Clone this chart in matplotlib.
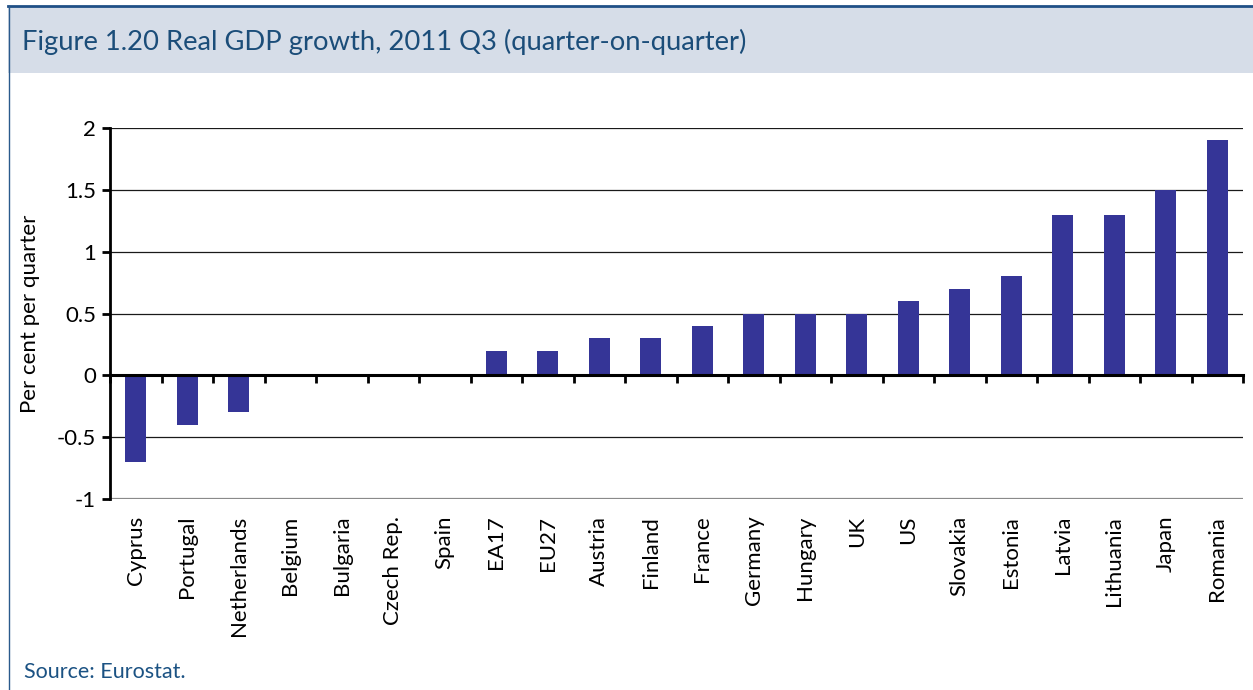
import matplotlib
matplotlib.use("Agg")
import matplotlib.pyplot as plt
from matplotlib.patches import Rectangle
from matplotlib.lines import Line2D
import numpy as np

plt.rcParams['font.family'] = ['Lato', 'DejaVu Sans']

countries = ["Cyprus", "Portugal", "Netherlands", "Belgium", "Bulgaria", "Czech Rep.",
             "Spain", "EA17", "EU27", "Austria", "Finland", "France", "Germany",
             "Hungary", "UK", "US", "Slovakia", "Estonia", "Latvia", "Lithuania",
             "Japan", "Romania"]
growth = [-0.7, -0.4, -0.3, 0.0, 0.0, 0.0, 0.0, 0.2, 0.2, 0.3, 0.3, 0.4, 0.5,
          0.5, 0.5, 0.6, 0.7, 0.8, 1.3, 1.3, 1.5, 1.9]
y_ticks = [-1, -0.5, 0, 0.5, 1, 1.5, 2]
y_tick_labels = ["-1", "-0.5", "0", "0.5", "1", "1.5", "2"]

title = "Figure 1.20 Real GDP growth, 2011 Q3 (quarter-on-quarter)"
source = "Source: Eurostat."

W, H = 1253, 690
fig = plt.figure(figsize=(W / 100, H / 100), dpi=100)
fig.patch.set_facecolor("white")

# header band and frame
fig.patches.append(Rectangle((8 / W, 1 - 73 / H), 1 - 8 / W, 66 / H,
                             transform=fig.transFigure, facecolor="#d6dde8",
                             edgecolor="none", zorder=0))
fig.lines.append(Line2D([8 / W, 1], [1 - 6 / H, 1 - 6 / H], transform=fig.transFigure,
                        color="#1f4f86", lw=2.0))
fig.lines.append(Line2D([8.5 / W, 8.5 / W], [0, 1 - 6 / H], transform=fig.transFigure,
                        color="#2a5a8c", lw=1.0))

fig.text(22 / W, 1 - 42 / H, title, fontsize=19.7, color="#1b4d79",
         ha="left", va="center")
fig.text(24 / W, 1 - 672 / H, source, fontsize=15.5, color="#1b5283",
         ha="left", va="center")

left, right, top, bottom = 110, 1243, 128, 499
ax = fig.add_axes([left / W, 1 - bottom / H, (right - left) / W, (bottom - top) / H])

n = len(countries)
x = np.arange(n)
ax.bar(x, growth, width=0.41, color="#353597", zorder=3)

ax.set_xlim(-0.5, n - 0.5)
ax.set_ylim(-1, 2)

# horizontal grid
for v in y_ticks[1:]:
    if v != 0:
        ax.axhline(v, color="#1a1a1a", lw=0.9, zorder=1)
ax.axhline(-1, color="#8a8a8a", lw=1.6, zorder=1)

# spines
for s in ["top", "right"]:
    ax.spines[s].set_visible(False)
ax.spines["left"].set_linewidth(2.0)
ax.spines["left"].set_color("black")
ax.spines["bottom"].set_position(("data", 0))
ax.spines["bottom"].set_linewidth(2.2)
ax.spines["bottom"].set_zorder(4)

ax.set_yticks(y_ticks)
ax.set_yticklabels(y_tick_labels)
ax.tick_params(axis="y", direction="out", length=6, width=2.0, labelsize=16, pad=4)

# boundary ticks on the zero line
ax.set_xticks(np.arange(n + 1) - 0.5)
ax.set_xticklabels([])
ax.tick_params(axis="x", direction="out", length=6, width=2.0)

# category labels along the bottom
sec = ax.secondary_xaxis(location=0)
sec.set_xticks(x)
sec.set_xticklabels(countries, rotation=90, fontsize=16)
sec.tick_params(length=0, pad=12)
sec.spines["bottom"].set_visible(False)

ax.set_ylabel("Per cent per quarter", fontsize=16)
ax.yaxis.set_label_coords((40 - left) / (right - left), 0.5)

fig.savefig("out.png", dpi=100, facecolor="white")
